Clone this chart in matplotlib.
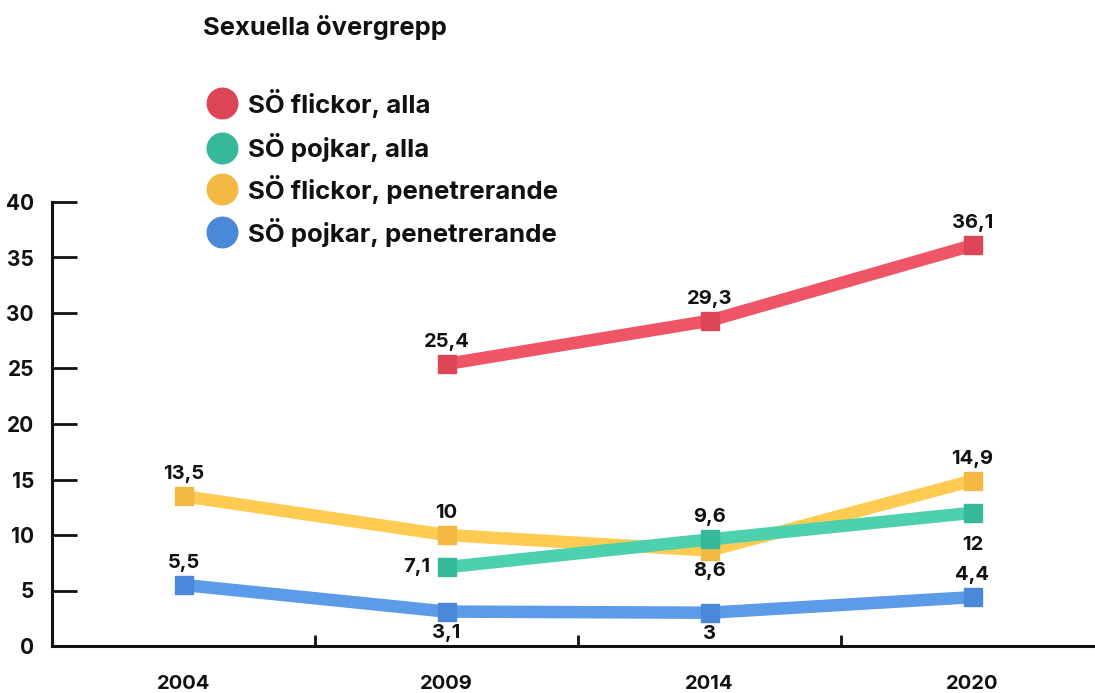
import matplotlib
matplotlib.use("Agg")
import matplotlib.pyplot as plt
from matplotlib.lines import Line2D
import numpy as np

plt.rcParams['font.family'] = ['Inter', 'DejaVu Sans']

years = ["2004", "2009", "2014", "2020"]
title = "Sexuella övergrepp"
series_names = ["SÖ flickor, alla", "SÖ pojkar, alla",
                "SÖ flickor, penetrerande", "SÖ pojkar, penetrerande"]
girls_all = [None, 25.4, 29.3, 36.1]
boys_all = [None, 7.1, 9.6, 12.0]
girls_pen = [13.5, 10.0, 8.6, 14.9]
boys_pen = [5.5, 3.1, 3.0, 4.4]
labels_girls_all = [None, "25,4", "29,3", "36,1"]
labels_boys_all = [None, "7,1", "9,6", "12"]
labels_girls_pen = ["13,5", "10", "8,6", "14,9"]
labels_boys_pen = ["5,5", "3,1", "3", "4,4"]
yticks = [0, 5, 10, 15, 20, 25, 30, 35, 40]

line_colors = ["#EE5566", "#4DD0AE", "#FFCB50", "#5B9BE8"]
marker_colors = ["#DC4556", "#36B99A", "#F4B942", "#4A88DA"]
legend_colors = ["#DC4556", "#36B99A", "#F4B942", "#4A88DA"]

W, H = 1095, 693
fig = plt.figure(figsize=(W / 100, H / 100), dpi=100)
left_px, bottom_px, top_px = 52, 646, 202
ax = fig.add_axes([left_px / W, 1 - bottom_px / H, 1 - left_px / W, (bottom_px - top_px) / H])

band = 263.0
ax.set_xlim(-0.5, -0.5 + (W - left_px) / band)
ax.set_ylim(0, 40)

x = np.arange(len(years))
all_series = [girls_all, boys_all, girls_pen, boys_pen]
all_labels = [labels_girls_all, labels_boys_all, labels_girls_pen, labels_boys_pen]
offsets = [
    [None, (0, 22), (0, 22), (0, 22)],
    [None, (-30, 0), (0, 22), (0, -32)],
    [(0, 22), (0, 22), (0, -20), (0, 22)],
    [(0, 22), (0, -21), (0, -21), (0, 22)],
]
zorders = [3, 5, 4, 3]
FW = 'bold'
for vals, labs, offs, lc, mc, z in zip(all_series, all_labels, offsets, line_colors, marker_colors, zorders):
    xs = [xi for xi, v in zip(x, vals) if v is not None]
    ys = [v for v in vals if v is not None]
    ax.plot(xs, ys, color=lc, lw=9, solid_capstyle='butt', zorder=z, clip_on=False)
    ax.plot(xs, ys, ls='none', marker='s', ms=12.5, color=mc, mec=mc, zorder=z + 0.5, clip_on=False)
    for xi, v, lab, off in zip(x, vals, labs, offs):
        if v is None:
            continue
        ax.annotate(lab, (xi, v), xytext=off, textcoords='offset pixels',
                    ha='center', va='center', fontsize=14.5, fontweight=FW,
                    color='#111111', zorder=10)

for s in ['top', 'right']:
    ax.spines[s].set_visible(False)
for s in ['left', 'bottom']:
    ax.spines[s].set_linewidth(2.2)
    ax.spines[s].set_color('#111111')

ax.set_yticks(yticks)
ax.set_yticklabels([str(t) for t in yticks], fontsize=15, fontweight=FW)
ax.tick_params(axis='y', direction='in', length=18, width=2, pad=13, colors='#111111')
ax.set_xticks(x)
ax.set_xticklabels(years, fontsize=14.5, fontweight=FW)
ax.tick_params(axis='x', which='major', length=0, pad=21, colors='#111111')
ax.set_xticks([0.5, 1.5, 2.5], minor=True)
ax.tick_params(axis='x', which='minor', direction='in', length=8, width=2, color='#111111')

fig.text(203 / W, 1 - 28 / H, title, fontsize=18.4, fontweight=FW, va='center', ha='left', color='#111111')
leg_y = [103, 148, 189, 232]
for name, c, yy in zip(series_names, legend_colors, leg_y):
    fig.add_artist(Line2D([222 / W], [1 - yy / H], marker='o', ms=22, color=c, mec=c,
                          transform=fig.transFigure, ls='none'))
    fig.text(248 / W, 1 - yy / H, name, fontsize=18.6, fontweight=FW, va='center',
             ha='left', color='#111111')

fig.savefig("out.png", dpi=100)
